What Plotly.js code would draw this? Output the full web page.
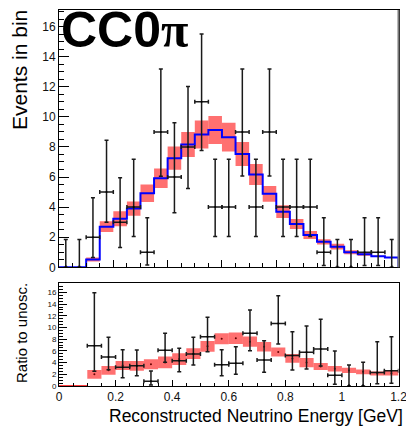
<!DOCTYPE html>
<html>
<head>
<meta charset="utf-8">
<script src="https://cdn.plot.ly/plotly-3.0.1.min.js"></script>
<style>html,body{margin:0;padding:0;background:#fff;}#chart{width:406px;height:428px;}</style>
</head>
<body>
<div id="chart"></div>
<script>
// ---- data ----
const binWidth = 0.05;
// top panel: 25 bins, 0 - 1.25 GeV
const eventsObserved = [0,0,2,5,3,4,1,9,6,8,11,4,4,9,4,9,4,4,4,1,0,0,1,1,0];
const eventsErrLowEdge  = [0,0,0.65,3.0,1.32,2.05,0.15,6.05,3.62,5.24,7.76,2.05,2.05,6.06,2.05,6.06,2.05,2.05,2.05,0.12,0,0,0.12,0.12,0];
const eventsErrHighEdge = [1.84,1.84,4.62,8.45,5.95,7.18,3.3,13.18,9.6,12.02,15.5,7.18,7.18,13.18,7.18,13.18,7.18,7.18,7.18,3.3,1.84,1.84,3.3,3.3,1.84];
const eventsPredicted = [0,0,0.52,2.7,3.22,3.9,4.92,5.92,7.25,8.16,8.82,9.12,8.65,7.53,6.17,4.88,3.7,2.88,2.15,1.69,1.37,1.0,0.87,0.73,0.65];
const eventsPredErr   = [0,0,0.13,0.36,0.5,0.47,0.58,0.65,0.77,0.83,0.93,0.93,0.96,0.8,0.7,0.53,0.42,0.33,0.27,0.18,0.19,0.13,0.11,0.04,0];
// bottom panel: 24 bins, 0 - 1.2 GeV
const ratioObserved = [null,null,6.89,4.96,3.19,3.48,0.8,6.1,4.3,5.47,8.43,3.65,3.87,9.0,4.44,10.7,5.2,5.75,6.32,1.85,0,0,2.3,2.6];
const ratioLowEdge  = [null,null,2.5,2.78,1.42,1.77,0.15,4.05,2.45,3.59,5.87,1.77,1.99,6.04,2.34,7.18,2.73,2.9,3.42,0.3,0,0,0.4,0.45];
const ratioHighEdge = [null,null,15.95,8.32,6.2,6.15,2.56,9.0,6.44,8.32,11.74,6.2,6.72,13.0,7.75,15.44,9.29,10.26,11.4,5.98,3.59,4.05,7.58,8.43];
const ratioPredicted = [0,0,1.99,2.68,3.5,3.45,3.7,4.02,4.6,5.53,6.78,8.06,8.16,7.58,6.7,5.8,4.72,4.0,3.35,2.95,2.67,2.42,2.12,2.2];
const ratioPredErr   = [0,0,0.74,0.74,0.77,0.83,0.85,1.0,1.0,0.91,0.91,0.94,1.0,0.86,0.8,0.77,0.74,0.8,0.6,0.48,0.45,0.42,0.34,0.42];
const ratioTickVals = [0,0.2,0.4,0.6,0.8,1,1.2];
const ratioTickText = ['0','0.2','0.4','0.6','0.8','1','1.2'];

const titleText = 'CC0<span style="font-family:\'Liberation Serif\',serif;">π</span>';
const yTitleTop = 'Events in bin';
const yTitleBottom = 'Ratio to unosc.';
const xTitle = 'Reconstructed Neutrino Energy [GeV]';

// ---- derived ----
const centers = n => Array.from({length:n}, (_, i) => (i + 0.5) * binWidth);
const edges = n => Array.from({length:n + 1}, (_, i) => i * binWidth);
const xTop = centers(eventsObserved.length);
const xBot = centers(ratioObserved.length);

const W = 406, H = 428;
const xDom = [59/W, 398.5/W];
const yDomTop = [1 - 267.3/H, 1 - 10/H];
const yDomBot = [1 - 386/H, 1 - 283.3/H];

const red = 'rgba(255,0,0,0.56)';
const ebColor = '#1a1a1a';

const traces = [
  { // top prediction band
    type:'bar', x:xTop, base:eventsPredicted.map((v,i)=>v-eventsPredErr[i]),
    y:eventsPredErr.map(e=>2*e), width:binWidth, marker:{color:red, line:{width:0}},
    xaxis:'x', yaxis:'y', hoverinfo:'skip'
  },
  { // top prediction step line
    type:'scatter', mode:'lines', x:edges(eventsPredicted.length), y:eventsPredicted.concat([0]),
    line:{shape:'hv', color:'#0000ff', width:2}, xaxis:'x', yaxis:'y'
  },
  { // top data
    type:'scatter', mode:'markers', x:xTop, y:eventsObserved,
    marker:{size:2, color:'#000'},
    error_y:{type:'data', symmetric:false, array:eventsErrHighEdge.map((h,i)=>h-eventsObserved[i]),
      arrayminus:eventsObserved.map((v,i)=>v-eventsErrLowEdge[i]), color:ebColor, thickness:1.5, width:2},
    error_x:{type:'data', array:eventsObserved.map(v=>v>0?binWidth/2:0), color:ebColor, thickness:1.5, width:2},
    xaxis:'x', yaxis:'y'
  },
  { // ratio prediction band
    type:'bar', x:xBot, base:ratioPredicted.map((v,i)=>v-ratioPredErr[i]),
    y:ratioPredErr.map(e=>2*e), width:binWidth,
    marker:{color:red, line:{color:'#ff0000', width:ratioPredErr.map(e=>e>0?0:1.5)}},
    xaxis:'x2', yaxis:'y2', hoverinfo:'skip'
  },
  { // ratio prediction centres
    type:'scatter', mode:'markers', x:xBot, y:ratioPredicted.map((v,i)=>ratioPredErr[i]>0?v:null),
    marker:{size:2, color:'#600'}, xaxis:'x2', yaxis:'y2'
  },
  { // ratio data
    type:'scatter', mode:'markers', x:xBot, y:ratioObserved,
    marker:{size:2, color:'#000'},
    error_y:{type:'data', symmetric:false, array:ratioHighEdge.map((h,i)=>h===null?0:h-ratioObserved[i]),
      arrayminus:ratioObserved.map((v,i)=>v===null?0:v-ratioLowEdge[i]), color:ebColor, thickness:1.5, width:2},
    error_x:{type:'data', array:ratioObserved.map(v=>v>0?binWidth/2:0), color:ebColor, thickness:1.5, width:2},
    xaxis:'x2', yaxis:'y2'
  }
];

const font = 'Liberation Sans, Arial, Helvetica, sans-serif';
const axCommon = {showline:true, mirror:true, linecolor:'#000', linewidth:1, showgrid:false, zeroline:false,
  ticks:'inside', tickcolor:'#000', fixedrange:true};

const layout = {
  width:W, height:H, margin:{l:0,r:0,t:0,b:0}, paper_bgcolor:'#fff', plot_bgcolor:'#fff',
  showlegend:false, barmode:'overlay', font:{family:font, color:'#000'},
  xaxis:Object.assign({}, axCommon, {domain:xDom, range:[0,1.25], anchor:'y', showticklabels:false,
    tick0:0, dtick:0.2, ticklen:7, minor:{dtick:0.05, ticklen:4, ticks:'inside', tickcolor:'#000'}}),
  yaxis:Object.assign({}, axCommon, {domain:yDomTop, range:[0,17.1], anchor:'x', tick0:0, dtick:2, ticklen:10,
    minor:{dtick:0.5, ticklen:5, ticks:'inside', tickcolor:'#000'}, tickfont:{size:12, family:font, color:'#111'}}),
  xaxis2:Object.assign({}, axCommon, {domain:xDom, range:[0,1.2], anchor:'y2', tickmode:'array',
    tickvals:ratioTickVals, ticktext:ratioTickText, ticklen:6, ticklabeloverflow:'allow',
    minor:{tickmode:'linear', tick0:0, dtick:0.05, ticklen:3, ticks:'inside', tickcolor:'#000'},
    tickfont:{size:12, family:font, color:'#111'}}),
  yaxis2:Object.assign({}, axCommon, {domain:yDomBot, range:[0,17.55], anchor:'x2', tick0:0, dtick:2, ticklen:8,
    minor:{dtick:0.5, ticklen:4, ticks:'inside', tickcolor:'#000'}, tickfont:{size:8, family:font, color:'#111'}}),
  shapes:[
    {type:'line', xref:'x domain', yref:'y domain', x0:1, x1:1, y0:0, y1:1, line:{color:'#777', width:2}}
  ],
  annotations:[
    {text:titleText, xref:'paper', yref:'paper', x:59/W, y:1-0/H, xanchor:'left', yanchor:'top', showarrow:false,
      font:{size:50, family:font, weight:'bold', color:'#000'}},
    {text:yTitleTop, xref:'paper', yref:'paper', x:20/W, y:1-70/H, xanchor:'center', yanchor:'middle', textangle:-90,
      showarrow:false, font:{size:21, family:font, color:'#000'}},
    {text:yTitleBottom, xref:'paper', yref:'paper', x:21/W, y:1-333/H, xanchor:'center', yanchor:'middle', textangle:-90,
      showarrow:false, font:{size:15, family:font, color:'#000'}},
    {text:xTitle, xref:'paper', yref:'paper', x:405/W, y:1-416/H, xanchor:'right', yanchor:'middle',
      showarrow:false, font:{size:17.5, family:font, color:'#000'}}
  ]
};

Plotly.newPlot('chart', traces, layout, {staticPlot:true, displayModeBar:false});
</script>
</body>
</html>
